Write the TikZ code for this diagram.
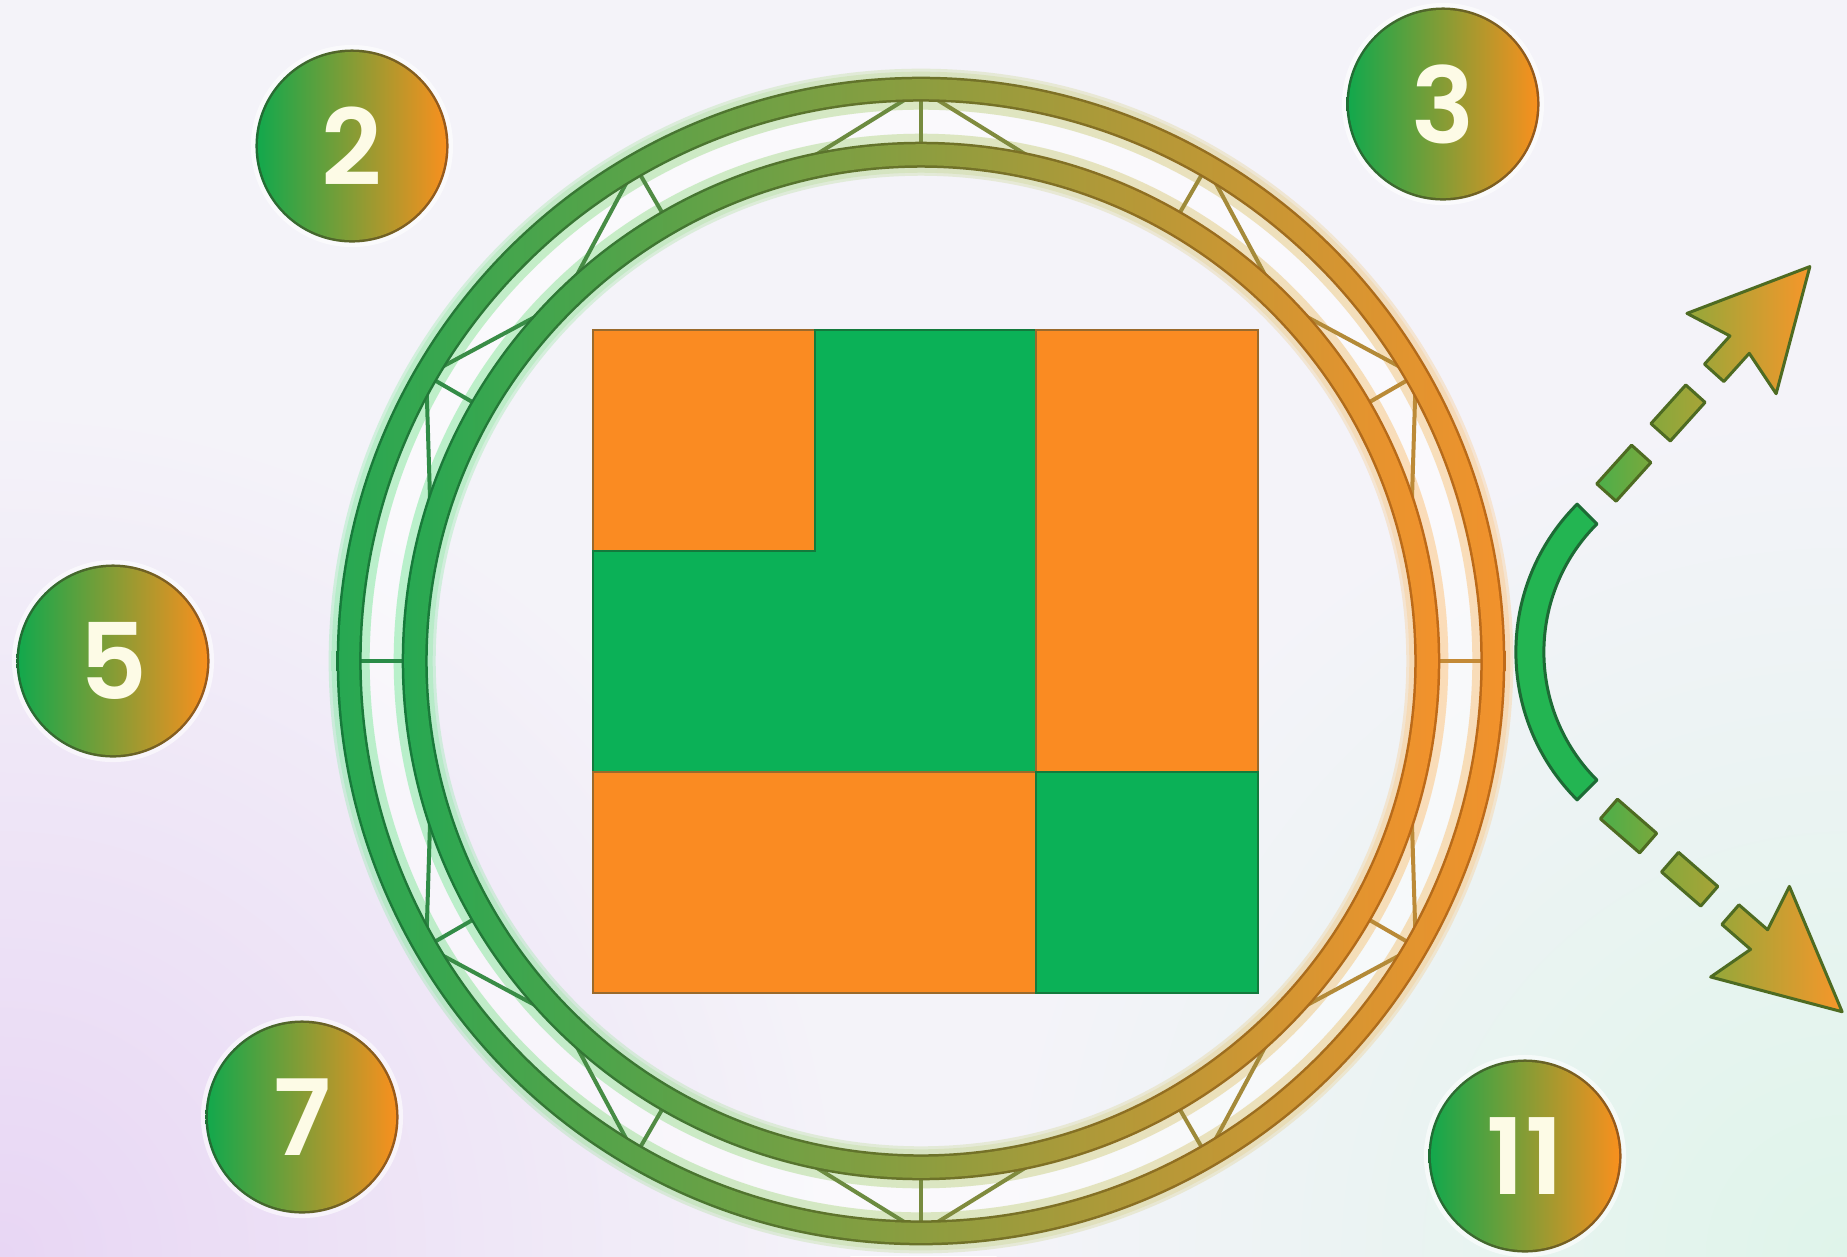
\documentclass[tikz,border=0pt]{standalone}
\usepackage{fontspec}
\newfontfamily\numfont{Poppins SemiBold}
\usetikzlibrary{calc}
\definecolor{bgBase}{HTML}{F4F3F9}
\definecolor{bgLav}{HTML}{E8D6F4}
\definecolor{bgMint}{HTML}{DFF4EA}
\definecolor{rgD}{HTML}{167A3B}
\definecolor{roD}{HTML}{C06A18}
\definecolor{rgL}{HTML}{27A852}
\definecolor{roL}{HTML}{F2922C}
\definecolor{glG}{HTML}{7CEA9E}
\definecolor{glO}{HTML}{FFC27A}
\definecolor{lnG}{HTML}{2A8C48}
\definecolor{lnO}{HTML}{C48A36}
\definecolor{sqO}{HTML}{FA8B22}
\definecolor{sqG}{HTML}{0BB157}
\definecolor{sqOD}{HTML}{9A6A2C}
\definecolor{sqGD}{HTML}{137A3C}
\definecolor{arcG}{HTML}{23B552}
\definecolor{arcD}{HTML}{1D6B35}
\definecolor{dsD}{HTML}{4E6B22}
\definecolor{daL}{HTML}{4CAF4A}
\definecolor{daR}{HTML}{7AA83C}
\definecolor{dbL}{HTML}{86A83C}
\definecolor{dbR}{HTML}{A8A437}
\definecolor{hdL}{HTML}{93A83A}
\definecolor{hdR}{HTML}{F7962A}
\definecolor{ncG}{HTML}{13A84C}
\definecolor{ncO}{HTML}{F8901E}
\definecolor{ncDG}{HTML}{1F6E35}
\definecolor{ncDO}{HTML}{9A5A1C}
\definecolor{numtxt}{HTML}{FDFBE6}
\tikzset{
  truss/.style={line width=0.04cm, line cap=round},
  sqpart/.style={line width=0.025cm, line join=miter},
  dashpart/.style={draw=dsD, line width=0.03cm, line join=round},
  numc/.style={circle, minimum size=1.88cm, inner sep=0pt, left color=ncG, right color=ncO,
    text=numtxt, font=\numfont\fontsize{30}{30}\selectfont}
}
\begin{document}
\begin{tikzpicture}[x=0.01cm,y=-0.01cm]
\useasboundingbox (0,0) rectangle (1847,1256);
% background
\fill[bgBase] (0,0) rectangle (1847,1256);
\begin{scope}
\clip (0,0) rectangle (1847,1256);
\shade[inner color=bgLav, outer color=bgBase] (0,1256) circle (8.5cm);
\shade[inner color=bgMint, outer color=bgBase] (1847,1256) circle (8.5cm);
\end{scope}
% ring
\coordinate (C) at (921,661);
\shade[left color=white, right color=white, opacity=0.55, even odd rule] (C) circle (5.62cm) (C) circle (5.16cm);
% glow
\foreach \ro/\ri in {5.92/4.85, 5.89/4.88}{
  \shade[left color=glG, right color=glO, opacity=0.3, even odd rule] (C) circle (\ro cm) (C) circle (5.51cm);
  \shade[left color=glG, right color=glO, opacity=0.3, even odd rule] (C) circle (5.27cm) (C) circle (\ri cm);
}
\foreach \a in {0,30,...,330}{
  \pgfmathtruncatemacro\p{50+50*cos(\a)}
  \draw[truss, draw=lnO!\p!lnG] ($(C)+(\a:5.05cm)$) -- ($(C)+(\a:5.72cm)$);
}
\foreach \a/\b in {90/75,90/105,60/45,30/45,30/15,120/135,150/135,150/165,270/255,270/285,240/225,210/225,210/195,300/315,330/315,330/345}{
  \pgfmathtruncatemacro\p{50+25*cos(\a)+25*cos(\b)}
  \draw[truss, draw=lnO!\p!lnG] ($(C)+(\a:5.71cm)$) -- ($(C)+(\b:5.07cm)$);
}
\shade[left color=rgD, right color=roD, even odd rule] (C) circle (5.84cm) (C) circle (5.59cm);
\shade[left color=rgL, right color=roL, even odd rule] (C) circle (5.815cm) (C) circle (5.615cm);
\shade[left color=rgD, right color=roD, even odd rule] (C) circle (5.19cm) (C) circle (4.93cm);
\shade[left color=rgL, right color=roL, even odd rule] (C) circle (5.165cm) (C) circle (4.955cm);
% square grid
\filldraw[sqpart, fill=sqO, draw=sqOD] (593,330) rectangle (815,551);
\filldraw[sqpart, fill=sqG, draw=sqGD] (815,330) -- (1036,330) -- (1036,772) -- (593,772) -- (593,551) -- (815,551) -- cycle;
\filldraw[sqpart, fill=sqO, draw=sqOD] (1036,330) rectangle (1258,772);
\filldraw[sqpart, fill=sqO, draw=sqOD] (593,772) rectangle (1036,993);
\filldraw[sqpart, fill=sqG, draw=sqGD] (1036,772) rectangle (1258,993);
% arc with dashed arrows
\coordinate (A) at (1725,652);
\filldraw[fill=arcG, draw=arcD, line width=0.03cm, line join=round] ($(A)+(135:2.09cm)$) arc[start angle=135,end angle=225,radius=2.09cm] -- ($(A)+(225:1.81cm)$) arc[start angle=225,end angle=135,radius=1.81cm] -- cycle;
\coordinate (Pu) at ($(A)+(135:1.95cm)$);
\coordinate (Pl) at ($(A)+(225:1.95cm)$);
\begin{scope}[shift={(Pu)}, rotate=48]
  \shadedraw[dashpart, left color=daL, right color=daR] (29,-13) rectangle (81,13);
  \shadedraw[dashpart, left color=dbL, right color=dbR] (110,-13) rectangle (162,13);
  \shadedraw[dashpart, left color=hdL, right color=hdR] (190,-13) -- (228,-13) -- (216,-60) -- (333,0) -- (216,60) -- (228,13) -- (190,13) -- cycle;
\end{scope}
\begin{scope}[shift={(Pl)}, rotate=-41]
  \shadedraw[dashpart, left color=daL, right color=daR] (29,-13) rectangle (81,13);
  \shadedraw[dashpart, left color=dbL, right color=dbR] (110,-13) rectangle (162,13);
  \shadedraw[dashpart, left color=hdL, right color=hdR] (190,-13) -- (228,-13) -- (216,-60) -- (338,0) -- (216,60) -- (228,13) -- (190,13) -- cycle;
\end{scope}
% numbered circles
\foreach \n/\x/\y in {n2/352/146, n3/1443/104, n5/113/661, n7/302/1117, n11/1525/1156}{
  \fill[white, opacity=0.6] (\x,\y) circle (1.01cm);
  \shade[left color=ncDG, right color=ncDO] (\x,\y) circle (0.965cm);
}
\node[numc] (n2) at (352,146) {2};
\node[numc] (n3) at (1443,104) {3};
\node[numc] (n5) at (113,661) {5};
\node[numc] (n7) at (302,1117) {7};
\node[numc] (n11) at (1525,1156) {11};
\end{tikzpicture}
\end{document}
